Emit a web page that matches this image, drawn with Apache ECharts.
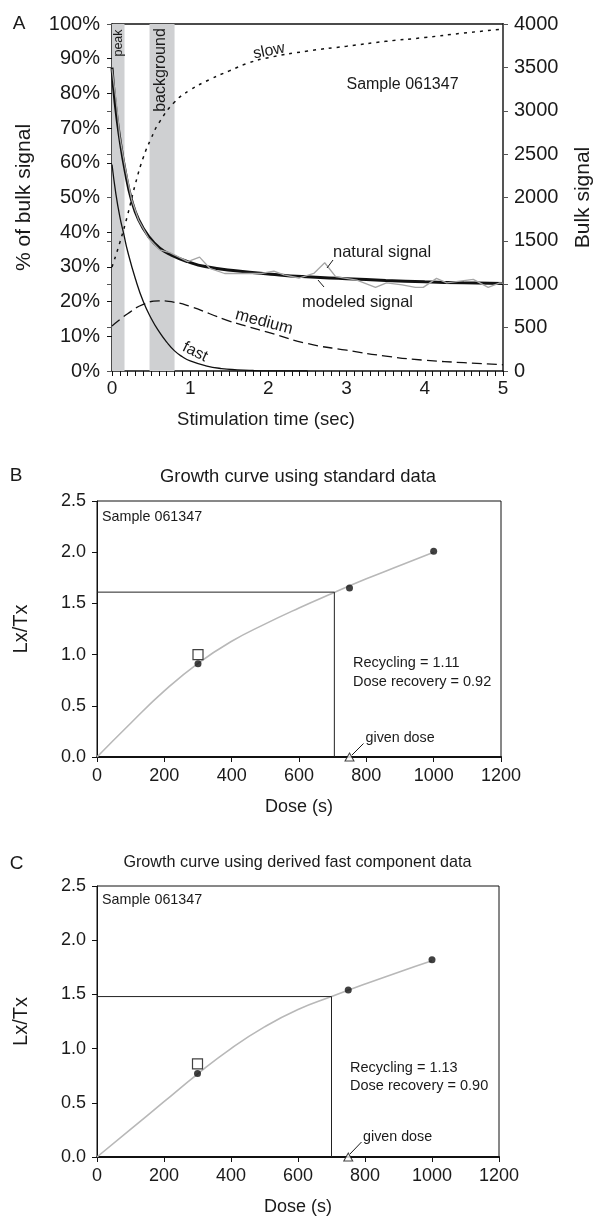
<!DOCTYPE html>
<html><head><meta charset="utf-8">
<script src="https://cdn.jsdelivr.net/npm/echarts@6/dist/echarts.min.js"></script>
<style>html,body{margin:0;padding:0;background:#fff}#c{width:602px;height:1218px}</style>
</head><body><div id="c"></div>
<script>
// ---------- Panel A: % of bulk signal vs stimulation time (sec) ----------
const fastT = [0,0.05,0.1,0.15,0.2,0.3,0.4,0.5,0.6,0.7,0.8,0.9,1,1.2,1.4,1.6,1.8,2,2.5];
const fastV = [59.5,51,44.5,39.5,34.5,26.5,20,15.2,11.4,8.3,5.8,4.1,2.9,1.5,0.7,0.35,0.15,0.05,0];
const mediumT = [0,0.2,0.4,0.6,0.8,1,1.25,1.5,1.75,2,2.5,3,3.5,4,4.5,5];
const mediumV = [13,16.5,19.2,20.2,19.8,18.6,16.5,14.4,12.7,11.1,7.9,6.0,4.3,3.1,2.4,1.8];
const slowT = [0,0.1,0.2,0.3,0.4,0.5,0.6,0.8,1,1.25,1.5,1.75,2,2.5,3,3.5,4,4.5,5];
const slowV = [30,37,45,54,61.5,67,71.5,77.5,81,84,86.5,88.8,90.3,92.2,93.6,95,96.1,97.4,98.5];
const modeledT = [0,0.04,0.1,0.17,0.25,0.34,0.47,0.61,0.76,0.97,1.19,1.61,2.03,2.43,3,3.5,4,4.5,5];
const modeledV = [87.4,77.3,67,57.5,49.3,43.6,38.7,35.4,33.4,31.5,30.1,28.8,27.9,27.2,26.6,26.1,25.7,25.4,25.2];
const naturalT = [0,0.05,0.1,0.17,0.25,0.34,0.47,0.61,0.74,0.97,1.12,1.25,1.44,1.91,2.07,2.2,2.39,2.58,2.72,2.86,3.13,3.37,3.51,3.71,3.88,3.98,4.15,4.28,4.62,4.81,4.96,5];
const naturalV = [87,78.5,67.5,58.5,49.5,43.5,38.2,34.9,34.1,31.5,32.8,29.6,28.1,28.1,28.8,27.7,26.8,28.1,31.2,27.2,26.2,24.1,25.4,24.8,24.1,24.1,26.7,25.4,26.4,24.1,25.4,25.3];
const bandStart = [0, 0.48];
const bandEnd = [0.16, 0.8];

// ---------- Panel B: growth curve using standard data ----------
const doseGrid = [0,100,200,300,400,500,600,700,800,900,1000];
const curveB = [0,0.33,0.645,0.915,1.13,1.3,1.455,1.60,1.74,1.87,2.0];
const regenB = [[300,0.91],[750,1.65],[1000,2.01]];
const recycleB = [[300,1.0]];
const givenB = [[750,0]];
const equivB = [[0,1.61],[705,1.61],[705,0]];

// ---------- Panel C: growth curve using derived fast component data ----------
const curveC = [0,0.255,0.51,0.765,1.0,1.2,1.36,1.48,1.595,1.705,1.81];
const regenC = [[300,0.77],[750,1.54],[1000,1.82]];
const recycleC = [[300,0.86]];
const givenC = [[750,0]];
const equivC = [[0,1.48],[700,1.48],[700,0]];

const FONT = '"Liberation Sans", Arial, Helvetica, sans-serif';
const INK = '#1a1a1a';
const zip = (a, b) => a.map((v, i) => [v, b[i]]);
const plain = v => String(v);

const chart = echarts.init(document.getElementById('c'), null, {renderer: 'canvas'});

function txt(text, x, y, size, opts) {
  opts = opts || {};
  return {
    type: 'text', x: x, y: y, rotation: opts.rot || 0, silent: true, z: 50,
    style: {text: text, fill: INK, font: (size) + 'px ' + FONT,
      align: opts.align || 'center', verticalAlign: 'middle'}
  };
}
function seg(x1, y1, x2, y2) {
  return {type: 'line', silent: true, z: 50,
    shape: {x1: x1, y1: y1, x2: x2, y2: y2}, style: {stroke: INK, lineWidth: 1}};
}

const xCommonB = {
  type: 'value', min: 0, max: 1200, interval: 200,
  axisLine: {show: true, onZero: false, lineStyle: {color: '#111', width: 2}},
  axisTick: {show: true, length: 5, lineStyle: {color: '#111'}},
  axisLabel: {fontSize: 18, color: INK, fontFamily: FONT, margin: 10, formatter: plain},
  splitLine: {show: false},
  name: 'Dose (s)', nameLocation: 'middle', nameGap: 41,
  nameTextStyle: {fontSize: 18, color: INK, fontFamily: FONT}
};
const yCommonB = {
  type: 'value', min: 0, max: 2.5, interval: 0.5,
  axisLine: {show: true, lineStyle: {color: '#111', width: 1}},
  axisTick: {show: true, length: 5, lineStyle: {color: '#111'}},
  axisLabel: {fontSize: 18, color: INK, fontFamily: FONT, margin: 11,
    formatter: v => v.toFixed(1)},
  splitLine: {show: false},
  name: 'Lx/Tx', nameLocation: 'middle', nameGap: 66, nameRotate: 90,
  nameTextStyle: {fontSize: 20, color: INK, fontFamily: FONT}
};

const option = {
  backgroundColor: '#fff',
  animation: false,
  textStyle: {fontFamily: FONT},
  grid: [
    {left: 112, top: 24, width: 393, height: 347},
    {left: 97, top: 501, width: 404, height: 256, show: true, borderColor: '#111', borderWidth: 1},
    {left: 97, top: 886, width: 402, height: 271, show: true, borderColor: '#111', borderWidth: 1}
  ],
  xAxis: [
    {gridIndex: 0, type: 'value', min: 0, max: 5, interval: 1,
      axisLine: {show: true, onZero: false, lineStyle: {color: '#111', width: 1.5}},
      axisTick: {show: true, length: 5, lineStyle: {color: '#111'}},
      minorTick: {show: true, splitNumber: 10, length: 5, lineStyle: {color: '#111'}},
      axisLabel: {fontSize: 19, color: INK, fontFamily: FONT, margin: 8, formatter: plain},
      splitLine: {show: false},
      name: 'Stimulation time (sec)', nameLocation: 'middle', nameGap: 39,
      nameTextStyle: {fontSize: 18.5, color: INK, fontFamily: FONT, padding: [0, 83, 0, 0]}},
    {gridIndex: 0, type: 'value', min: 0, max: 5, position: 'top',
      axisLine: {show: true, onZero: false, lineStyle: {color: '#111', width: 1.5}},
      axisTick: {show: false}, axisLabel: {show: false}, splitLine: {show: false}},
    Object.assign({gridIndex: 1}, xCommonB),
    Object.assign({gridIndex: 2}, xCommonB)
  ],
  yAxis: [
    {gridIndex: 0, type: 'value', min: 0, max: 100, interval: 10, position: 'left',
      axisLine: {show: true, onZero: false, lineStyle: {color: '#111', width: 1.5}},
      axisTick: {show: true, length: 5, lineStyle: {color: '#111'}},
      axisLabel: {fontSize: 20, color: INK, fontFamily: FONT, margin: 12, formatter: v => v + '%'},
      splitLine: {show: false},
      name: '% of bulk signal', nameLocation: 'middle', nameGap: 77, nameRotate: 90,
      nameTextStyle: {fontSize: 21, color: INK, fontFamily: FONT}},
    {gridIndex: 0, type: 'value', min: 0, max: 4000, interval: 500, position: 'right',
      axisLine: {show: true, onZero: false, lineStyle: {color: '#555', width: 2}},
      axisTick: {show: true, length: 5, lineStyle: {color: '#555'}},
      axisLabel: {fontSize: 20, color: INK, fontFamily: FONT, margin: 11, formatter: plain},
      splitLine: {show: false},
      name: 'Bulk signal', nameLocation: 'middle', nameGap: 70, nameRotate: 90,
      nameTextStyle: {fontSize: 21, color: INK, fontFamily: FONT}},
    {gridIndex: 0, type: 'value', min: 0, max: 4000, interval: 500, position: 'right',
      axisLine: {show: false},
      axisTick: {show: true, inside: true, length: 5, lineStyle: {color: '#555'}},
      axisLabel: {show: false}, splitLine: {show: false}},
    Object.assign({gridIndex: 1}, yCommonB),
    Object.assign({gridIndex: 2}, yCommonB)
  ],
  series: [
    {type: 'line', name: 'bands', xAxisIndex: 0, yAxisIndex: 0, data: [], z: 1, silent: true,
      markArea: {silent: true, itemStyle: {color: '#cfd0d2'},
        data: bandStart.map((s, i) => [{xAxis: s, yAxis: 0}, {xAxis: bandEnd[i], yAxis: 100}])}},
    {type: 'line', name: 'fast', xAxisIndex: 0, yAxisIndex: 0, data: zip(fastT, fastV), smooth: true,
      showSymbol: false, z: 3, lineStyle: {color: '#111', width: 1.3}},
    {type: 'line', name: 'medium', xAxisIndex: 0, yAxisIndex: 0, data: zip(mediumT, mediumV), smooth: true,
      showSymbol: false, z: 3, lineStyle: {color: '#111', width: 1.3, type: [10, 5]}},
    {type: 'line', name: 'slow', xAxisIndex: 0, yAxisIndex: 0, data: zip(slowT, slowV), smooth: true,
      showSymbol: false, z: 3, lineStyle: {color: '#111', width: 1.5, type: [3, 5]}},
    {type: 'line', name: 'modeled signal', xAxisIndex: 0, yAxisIndex: 0, data: zip(modeledT, modeledV), smooth: true,
      showSymbol: false, z: 3, lineStyle: {color: '#111', width: 3}},
    {type: 'line', name: 'natural signal', xAxisIndex: 0, yAxisIndex: 0, data: zip(naturalT, naturalV),
      showSymbol: false, z: 4, lineStyle: {color: '#a6a6a6', width: 1.3}},

    {type: 'line', xAxisIndex: 2, yAxisIndex: 3, data: zip(doseGrid, curveB), smooth: true,
      showSymbol: false, z: 3, lineStyle: {color: '#b8b8b8', width: 1.6}},
    {type: 'line', xAxisIndex: 2, yAxisIndex: 3, data: equivB, showSymbol: false, z: 3,
      lineStyle: {color: '#222', width: 1}},
    {type: 'scatter', xAxisIndex: 2, yAxisIndex: 3, data: regenB, symbol: 'circle', symbolSize: 7, z: 5,
      itemStyle: {color: '#111'}},
    {type: 'scatter', xAxisIndex: 2, yAxisIndex: 3, data: recycleB, symbol: 'rect', symbolSize: 10, z: 5,
      itemStyle: {color: '#fff', borderColor: '#111', borderWidth: 1.2}},
    {type: 'scatter', xAxisIndex: 2, yAxisIndex: 3, data: givenB, symbol: 'triangle', symbolSize: [9, 8], z: 6,
      clip: false, itemStyle: {color: '#fff', borderColor: '#111', borderWidth: 1}},

    {type: 'line', xAxisIndex: 3, yAxisIndex: 4, data: zip(doseGrid, curveC), smooth: true,
      showSymbol: false, z: 3, lineStyle: {color: '#b8b8b8', width: 1.6}},
    {type: 'line', xAxisIndex: 3, yAxisIndex: 4, data: equivC, showSymbol: false, z: 3,
      lineStyle: {color: '#222', width: 1}},
    {type: 'scatter', xAxisIndex: 3, yAxisIndex: 4, data: regenC, symbol: 'circle', symbolSize: 7, z: 5,
      itemStyle: {color: '#111'}},
    {type: 'scatter', xAxisIndex: 3, yAxisIndex: 4, data: recycleC, symbol: 'rect', symbolSize: 10, z: 5,
      itemStyle: {color: '#fff', borderColor: '#111', borderWidth: 1.2}},
    {type: 'scatter', xAxisIndex: 3, yAxisIndex: 4, data: givenC, symbol: 'triangle', symbolSize: [9, 8], z: 6,
      clip: false, itemStyle: {color: '#fff', borderColor: '#111', borderWidth: 1}}
  ],
  graphic: [
    // Panel A annotations
    txt('A', 19, 24, 19),
    txt('peak', 119, 43, 12.5, {rot: Math.PI / 2}),
    txt('background', 161, 70, 16, {rot: Math.PI / 2}),
    txt('slow', 269, 51, 16, {rot: 0.2}),
    txt('Sample 061347', 402.5, 85, 16),
    txt('natural signal', 333, 252, 16.5, {align: 'left'}),
    txt('modeled signal', 302, 302, 16.5, {align: 'left'}),
    txt('medium', 264, 322, 16.5, {rot: -0.26}),
    txt('fast', 195, 352, 16, {rot: -0.45}),
    seg(333, 260, 327, 268),
    seg(318, 280, 324, 287),
    // Panel B
    txt('B', 16, 476, 19),
    txt('Growth curve using standard data', 298, 477, 18.4),
    txt('Sample 061347', 102, 517, 14.3, {align: 'left'}),
    txt('Recycling = 1.11', 353, 663, 14.5, {align: 'left'}),
    txt('Dose recovery = 0.92', 353, 681.5, 14.5, {align: 'left'}),
    txt('given dose', 365.5, 738, 14.3, {align: 'left'}),
    seg(352, 755, 363.5, 743.5),
    // Panel C
    txt('C', 16.5, 864, 19),
    txt('Growth curve using derived fast component data', 297.5, 863, 16.2),
    txt('Sample 061347', 102, 900, 14.3, {align: 'left'}),
    txt('Recycling = 1.13', 350, 1068, 14.5, {align: 'left'}),
    txt('Dose recovery = 0.90', 350, 1086, 14.5, {align: 'left'}),
    txt('given dose', 363, 1137, 14.3, {align: 'left'}),
    seg(350, 1154, 361.5, 1142)
  ]
};
chart.setOption(option);
</script>
</body></html>
